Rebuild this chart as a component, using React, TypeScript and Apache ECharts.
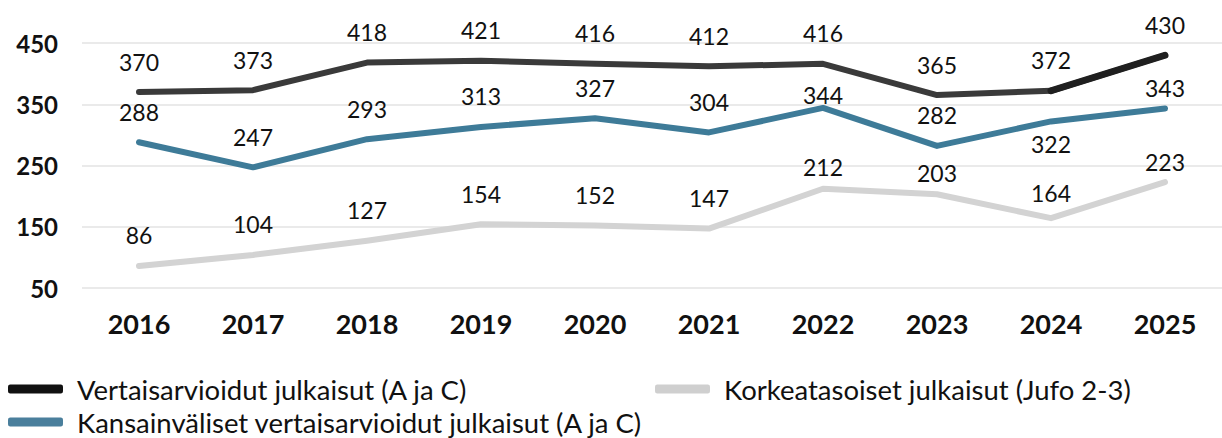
import React, { useEffect, useRef } from "react";
import * as echarts from "echarts";

const years = ["2016", "2017", "2018", "2019", "2020", "2021", "2022", "2023", "2024", "2025"];
const vertaisarvioidut = [370, 373, 418, 421, 416, 412, 416, 365, 372, 430];
const kansainvaliset = [288, 247, 293, 313, 327, 304, 344, 282, 322, 343];
const korkeatasoiset = [86, 104, 127, 154, 152, 147, 212, 203, 164, 223];
const yTicks = [50, 150, 250, 350, 450];

const nameBlack = "Vertaisarvioidut julkaisut (A ja C)";
const nameBlue = "Kansainväliset vertaisarvioidut julkaisut (A ja C)";
const nameGray = "Korkeatasoiset julkaisut (Jufo 2-3)";

const FONT = "Lato, 'Noto Sans', sans-serif";

export default function App() {
  const ref = useRef<HTMLDivElement>(null);
  useEffect(() => {
    if (!ref.current) return;
    const chart = echarts.init(ref.current, undefined, { renderer: "svg" });

    const blueOverrides: Record<number, any> = {
      6: { distance: 0 },
      8: { position: "bottom", distance: 10 },
      9: { distance: 8 },
    };
    const grayOverrides: Record<number, any> = {
      6: { distance: 9 },
      7: { distance: 9 },
      8: { distance: 13 },
      9: { distance: 8 },
    };
    const mk = (vals: number[], ov: Record<number, any>) =>
      vals.map((v, i) => (ov[i] ? { value: v, label: ov[i] } : v));

    const labelBase = {
      show: true,
      position: "top",
      distance: 18,
      fontFamily: FONT,
      fontSize: 23,
      color: "#111",
    };

    const lastSeg = vertaisarvioidut.map((v, i) => (i >= vertaisarvioidut.length - 2 ? v : null));

    const legendCommon = {
      orient: "horizontal",
      icon: "roundRect",
      itemWidth: 55,
      itemHeight: 9,
      padding: 0,
      textStyle: {
        fontFamily: FONT,
        fontSize: 27.5,
        color: "#111",
        lineHeight: 28,
        padding: [0, 0, 0, 9],
      },
      selectedMode: false,
    };

    chart.setOption({
      animation: false,
      backgroundColor: "#ffffff",
      grid: { left: 82, top: 43, width: 1156, height: 245, containLabel: false },
      xAxis: {
        type: "category",
        data: years,
        boundaryGap: true,
        axisLine: { show: false },
        axisTick: { show: false },
        axisLabel: {
          fontFamily: FONT,
          fontSize: 27,
          fontWeight: "bold",
          color: "#111",
          margin: 22,
        },
      },
      yAxis: {
        type: "value",
        min: yTicks[0],
        max: yTicks[yTicks.length - 1],
        interval: 100,
        axisLine: { show: false },
        axisTick: { show: false },
        splitLine: { show: true, lineStyle: { color: "#eaeaea", width: 2 } },
        axisLabel: {
          fontFamily: FONT,
          fontSize: 24,
          fontWeight: "bold",
          color: "#111",
          margin: 24,
        },
      },
      legend: [
        { ...legendCommon, left: 8, top: 375, data: [{ name: nameBlack, itemStyle: { color: "#111" } }] },
        { ...legendCommon, left: 655, top: 375, data: [{ name: nameGray, itemStyle: { color: "#cfcfcf" } }] },
        { ...legendCommon, left: 8, top: 408, data: [{ name: nameBlue, itemStyle: { color: "#4a7f9c" } }] },
      ],
      series: [
        {
          name: nameGray,
          type: "line",
          data: mk(korkeatasoiset, grayOverrides),
          symbol: "circle",
          symbolSize: 2,
          itemStyle: { color: "#d3d3d3" },
          lineStyle: { color: "#d3d3d3", width: 6, cap: "round", join: "round" },
          label: labelBase,
        },
        {
          name: nameBlue,
          type: "line",
          data: mk(kansainvaliset, blueOverrides),
          symbol: "circle",
          symbolSize: 2,
          itemStyle: { color: "#3e7b98" },
          lineStyle: { color: "#3e7b98", width: 6, cap: "round", join: "round" },
          label: labelBase,
        },
        {
          name: nameBlack,
          type: "line",
          data: vertaisarvioidut,
          symbol: "circle",
          symbolSize: 2,
          itemStyle: { color: "#3a3a3a" },
          lineStyle: { color: "#3a3a3a", width: 6, cap: "round", join: "round" },
          label: labelBase,
          z: 3,
        },
        {
          name: "segment",
          type: "line",
          data: lastSeg,
          symbol: "none",
          silent: true,
          itemStyle: { color: "#1f1f1f" },
          lineStyle: { color: "#1f1f1f", width: 7, cap: "round" },
          z: 4,
        },
      ],
    });
    return () => chart.dispose();
  }, []);
  return (
    <div
      ref={ref}
      style={{ position: "fixed", left: 0, top: 0, width: 1222, height: 438, background: "#fff" }}
    />
  );
}
